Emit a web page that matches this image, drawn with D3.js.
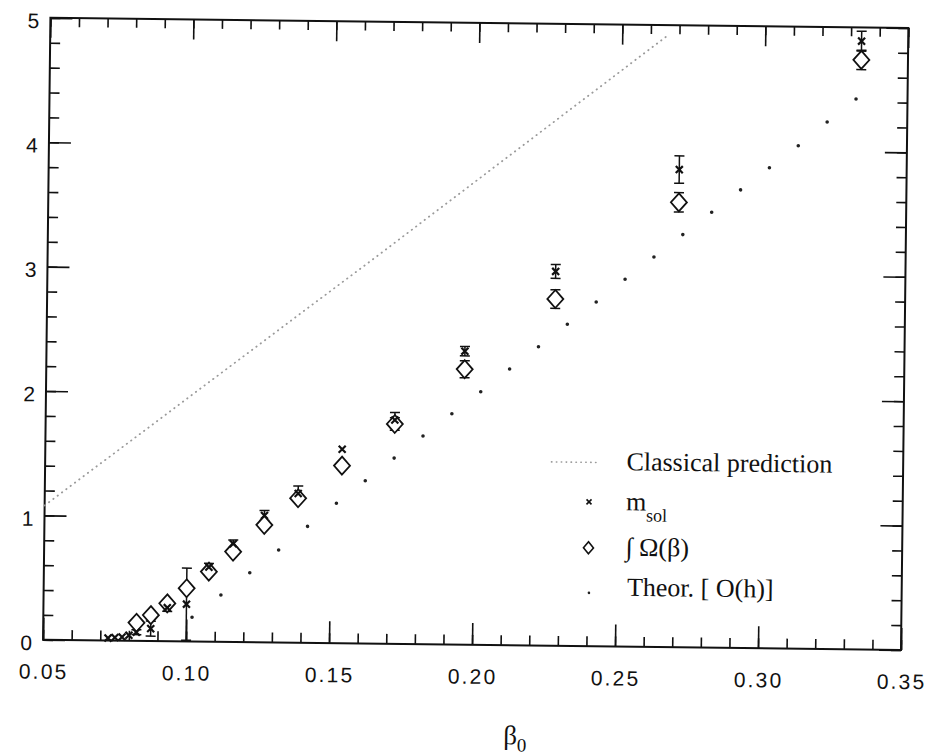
<!DOCTYPE html>
<html>
<head>
<meta charset="utf-8">
<script src="https://d3js.org/d3.v7.min.js"></script>
<style>
  body { margin: 0; background: #fff; }
  .tick text { display: none; }
  .domain { display: none; }
  .tick line { stroke: #111; stroke-width: 1.6; }
</style>
</head>
<body>
<script>
// values
const xTickLabels = ["0.05", "0.10", "0.15", "0.20", "0.25", "0.30", "0.35"];
const xTickValues = [0.05, 0.10, 0.15, 0.20, 0.25, 0.30, 0.35];
const yTickValues = [0, 1, 2, 3, 4, 5];

const classicalBeta = [0.05, 0.166, 0.2655];
const classicalVal  = [1.08, 3.13, 4.91];

const msolBeta = [0.0727, 0.0751, 0.0776, 0.0800, 0.0826, 0.0876, 0.0933, 0.1000, 0.1077, 0.1161,
                  0.1269, 0.1386, 0.1538, 0.1721, 0.1963, 0.2277, 0.2705, 0.3337];
const msolVal  = [0.02, 0.025, 0.03, 0.045, 0.07, 0.10, 0.27, 0.30, 0.60, 0.79,
                  1.02, 1.20, 1.56, 1.80, 2.36, 3.01, 3.84, 4.89];
const msolErr  = [0, 0, 0, 0, 0.02, 0.06, 0.03, 0.29, 0.03, 0.03,
                  0.04, 0.06, 0, 0.06, 0.038, 0.056, 0.11, 0.08];

const omegaBeta = [0.0826, 0.0876, 0.0933, 0.1000, 0.1077, 0.1161, 0.1269, 0.1386,
                   0.1538, 0.1721, 0.1963, 0.2277, 0.2705, 0.3337];
const omegaVal  = [0.146, 0.209, 0.305, 0.428, 0.563, 0.726, 0.944, 1.162,
                   1.428, 1.768, 2.215, 2.788, 3.577, 4.739];
const omegaErr  = [0, 0, 0, 0, 0, 0, 0, 0, 0, 0.05, 0.068, 0.075, 0.078, 0.078];

const theoryBeta = [0.102, 0.112, 0.122, 0.132, 0.142, 0.152, 0.162, 0.172, 0.182, 0.192, 0.202, 0.212,
                    0.222, 0.232, 0.242, 0.252, 0.262, 0.272, 0.282, 0.292, 0.302, 0.312, 0.322, 0.332];
const theoryVal  = [0.195, 0.377, 0.559, 0.744, 0.937, 1.125, 1.309, 1.494, 1.674, 1.856, 2.036, 2.221,
                    2.403, 2.586, 2.768, 2.953, 3.135, 3.318, 3.500, 3.683, 3.864, 4.043, 4.237, 4.424];

const svgWidth = 926, svgHeight = 756;
const margins = {top: 22.9, right: 21.3, bottom: 111.1, left: 46.7};
const chartLeft = margins.left, chartRight = svgWidth - margins.right;
const chartTop = margins.top, chartBottom = svgHeight - margins.bottom;

const svg = d3.select("body").append("svg")
  .attr("width", svgWidth)
  .attr("height", svgHeight);

// the scan is tilted a little clockwise
const chart = svg.append("g")
  .attr("transform", "rotate(0.68," + (chartLeft + chartRight) / 2 + "," + (chartTop + chartBottom) / 2 + ")");

const xScale = d3.scaleLinear().domain([0.05, 0.35]).range([chartLeft, chartRight]);
const yScale = d3.scaleLinear().domain([0, 5]).range([chartBottom, chartTop]);

const xMinor = xScale.ticks(30);
const yMinor = yScale.ticks(25);

// inward ticks on all four sides
function ticks(axis, tr) {
  chart.append("g").attr("transform", tr).call(axis);
}
ticks(d3.axisBottom(xScale).tickValues(xMinor).tickSize(-10), `translate(0,${chartBottom})`);
ticks(d3.axisBottom(xScale).tickValues(xTickValues).tickSize(-22), `translate(0,${chartBottom})`);
ticks(d3.axisTop(xScale).tickValues(xMinor).tickSize(-9), `translate(0,${chartTop})`);
ticks(d3.axisTop(xScale).tickValues(xTickValues).tickSize(-20), `translate(0,${chartTop})`);
ticks(d3.axisLeft(yScale).tickValues(yMinor).tickSize(-10), `translate(${chartLeft},0)`);
ticks(d3.axisLeft(yScale).tickValues(yTickValues).tickSize(-22), `translate(${chartLeft},0)`);
ticks(d3.axisRight(yScale).tickValues(yMinor).tickSize(-10), `translate(${chartRight},0)`);
ticks(d3.axisRight(yScale).tickValues(yTickValues).tickSize(-22), `translate(${chartRight},0)`);

chart.append("rect")
  .attr("x", chartLeft).attr("y", chartTop)
  .attr("width", chartRight - chartLeft).attr("height", chartBottom - chartTop)
  .attr("fill", "none").attr("stroke", "#111").attr("stroke-width", 2);

// tick labels
chart.selectAll(".xlab").data(xTickValues).enter().append("text")
  .attr("x", d => xScale(d) + 1)
  .attr("y", chartBottom + 39)
  .attr("text-anchor", "middle")
  .attr("font-family", "Liberation Sans, Arial, sans-serif")
  .attr("font-size", 21)
  .attr("letter-spacing", 2.2)
  .attr("fill", "#111")
  .text((d, i) => xTickLabels[i]);

chart.selectAll(".ylab").data(yTickValues).enter().append("text")
  .attr("x", chartLeft - 11)
  .attr("y", d => yScale(d) + 10.5)
  .attr("text-anchor", "end")
  .attr("font-family", "Liberation Sans, Arial, sans-serif")
  .attr("font-size", 21)
  .attr("fill", "#111")
  .text(d => d);

// axis title
const xt = chart.append("text")
  .attr("x", 508).attr("y", 744)
  .attr("font-family", "Liberation Serif, Times New Roman, serif")
  .attr("font-size", 27)
  .attr("fill", "#111");
xt.append("tspan").text("β");
xt.append("tspan").attr("dy", 7).attr("font-size", 19).text("0");

// classical prediction
const line = d3.line().x(d => xScale(d[0])).y(d => yScale(d[1]));
chart.append("path")
  .datum(classicalBeta.map((b, i) => [b, classicalVal[i]]))
  .attr("d", line)
  .attr("fill", "none")
  .attr("stroke", "#9a9a9a")
  .attr("stroke-width", 1.8)
  .attr("stroke-linecap", "round")
  .attr("stroke-dasharray", "0.4,5");

// error bars
function errorBars(beta, val, err) {
  beta.forEach(function(b, i) {
    if (!err[i]) return;
    const cx = xScale(b);
    const y1 = yScale(val[i] - err[i]), y2 = yScale(val[i] + err[i]);
    chart.append("line").attr("x1", cx).attr("x2", cx).attr("y1", y1).attr("y2", y2)
      .attr("stroke", "#111").attr("stroke-width", 1.5);
    [y1, y2].forEach(function(yy) {
      chart.append("line").attr("x1", cx - 5).attr("x2", cx + 5).attr("y1", yy).attr("y2", yy)
        .attr("stroke", "#111").attr("stroke-width", 1.5);
    });
  });
}
errorBars(omegaBeta, omegaVal, omegaErr);
errorBars(msolBeta, msolVal, msolErr);

const diamond = "M0,-9L8,0L0,9L-8,0Z";
const cross = "M-3.5,-3.5L3.5,3.5M-3.5,3.5L3.5,-3.5";

chart.selectAll(".omega").data(omegaBeta).enter().append("path")
  .attr("d", diamond)
  .attr("transform", (d, i) => `translate(${xScale(d)},${yScale(omegaVal[i])})`)
  .attr("fill", "#fff").attr("stroke", "#111").attr("stroke-width", 1.8);

chart.selectAll(".msol").data(msolBeta).enter().append("path")
  .attr("d", cross)
  .attr("transform", (d, i) => `translate(${xScale(d)},${yScale(msolVal[i])})`)
  .attr("fill", "none").attr("stroke", "#111").attr("stroke-width", 2.2);

chart.selectAll(".theor").data(theoryBeta).enter().append("circle")
  .attr("cx", d => xScale(d))
  .attr("cy", (d, i) => yScale(theoryVal[i]))
  .attr("r", 1.8)
  .attr("fill", "#222");

// legend
const legend = chart.append("g")
  .attr("font-family", "Liberation Serif, Times New Roman, serif")
  .attr("font-size", 26)
  .attr("fill", "#111");
legend.append("line").attr("x1", 553).attr("x2", 602).attr("y1", 461).attr("y2", 461)
  .attr("stroke", "#9a9a9a").attr("stroke-width", 1.6).attr("stroke-linecap", "round")
  .attr("stroke-dasharray", "0.4,4.5");
legend.append("text").attr("x", 628).attr("y", 468.5).text("Classical prediction");

legend.append("path").attr("d", "M-2.5,-2.5L2.5,2.5M-2.5,2.5L2.5,-2.5")
  .attr("transform", "translate(591,500.5)").attr("stroke", "#111").attr("stroke-width", 1.6);
const ms = legend.append("text").attr("x", 628).attr("y", 508.5);
ms.append("tspan").text("m");
ms.append("tspan").attr("dy", 11).attr("font-size", 18).text("sol");

legend.append("path").attr("d", "M0,-6L5,0L0,6L-5,0Z")
  .attr("transform", "translate(591,546.5)").attr("fill", "#fff").attr("stroke", "#111").attr("stroke-width", 1.6);
legend.append("text").attr("x", 628).attr("y", 554).text("∫ Ω(β)");

legend.append("circle").attr("cx", 592).attr("cy", 591.5).attr("r", 1.3).attr("fill", "#222");
legend.append("text").attr("x", 630).attr("y", 594).text("Theor. [ O(h)]");
</script>
</body>
</html>
